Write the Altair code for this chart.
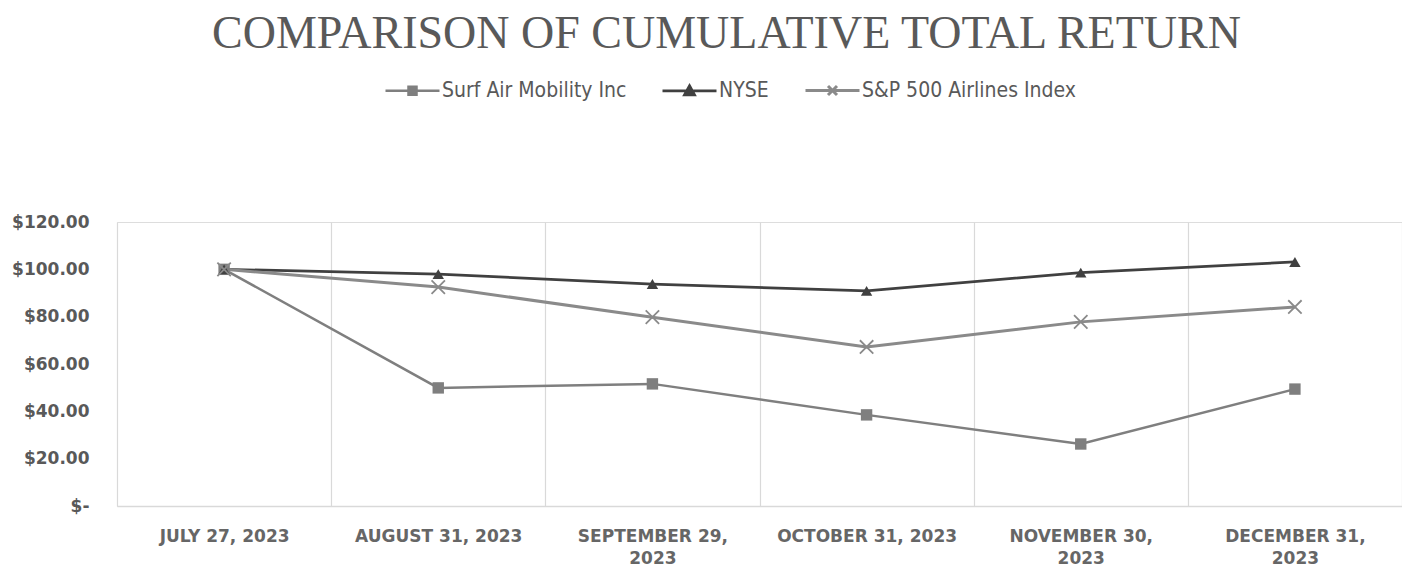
import altair as alt
import pandas as pd

dates = ["JULY 27, 2023", "AUGUST 31, 2023", "SEPTEMBER 29, 2023",
         "OCTOBER 31, 2023", "NOVEMBER 30, 2023", "DECEMBER 31, 2023"]
series_names = ["Surf Air Mobility Inc", "NYSE", "S&P 500 Airlines Index"]
surf_air = [100.0, 49.9, 51.6, 38.5, 26.2, 49.4]
nyse = [100.0, 98.0, 93.8, 90.9, 98.6, 103.1]
sp_airlines = [100.0, 92.5, 79.8, 67.2, 77.8, 84.1]
y_ticks = [0, 20, 40, 60, 80, 100, 120]

colors = ["#7f7f7f", "#404040", "#8a8a8a"]
widths = [2.5, 3, 2.5]
legend_paths = [
    "M-2.7,0L2.7,0M-0.4,-0.4L0.4,-0.4L0.4,0.4L-0.4,0.4Z",
    "M-2.7,0L2.7,0M0,-0.5L0.5,0.4L-0.5,0.4Z",
    "M-2.7,0L2.7,0M-0.45,-0.45L0.45,0.45M0.45,-0.45L-0.45,0.45",
]

rows = []
for name, vals in zip(series_names, [surf_air, nyse, sp_airlines]):
    for d, v in zip(dates, vals):
        rows.append({"date": d, "series": name, "value": v})
df = pd.DataFrame(rows)

x_enc = alt.X(
    "date:N", sort=dates, title=None,
    scale=alt.Scale(type="band", paddingInner=0, paddingOuter=0),
    axis=alt.Axis(
        labelAngle=0, labelFont="DejaVu Sans", labelFontWeight="bold",
        labelFontSize=17, labelColor="#666666", labelPadding=22,
        labelLineHeight=22, labelLimit=400,
        labelExpr="length(datum.label) > 16 ? [slice(datum.label, 0, length(datum.label) - 5), '2023'] : datum.label",
        ticks=False, domainColor="#d9d9d9", domainWidth=1.5,
        grid=True, gridColor="#d9d9d9", gridWidth=1.2, tickBand="extent",
    ),
)
y_enc = alt.Y(
    "value:Q", title=None,
    scale=alt.Scale(domain=[0, 120], nice=False),
    axis=alt.Axis(
        values=y_ticks, grid=False, domain=False, ticks=False,
        labelExpr="datum.value == 0 ? '$-' : '$' + format(datum.value, '.2f')",
        labelFont="DejaVu Sans", labelFontWeight="bold", labelFontSize=17,
        labelColor="#595959", labelPadding=28,
    ),
)

legend = alt.Legend(
    title=None, orient="none", direction="horizontal",
    legendX=284, legendY=-143, padding=0,
    symbolSize=400, symbolStrokeWidth=2.5, symbolOpacity=1,
    labelFont="Liberation Sans Narrow, DejaVu Sans Condensed, sans-serif",
    labelFontSize=21, labelColor="#595959",
    labelOffset=18, columnPadding=30, labelLimit=400,
)

stroke_scale = alt.Scale(domain=series_names, range=colors)

lines = alt.Chart(df).mark_line().encode(
    x=x_enc, y=y_enc,
    stroke=alt.Stroke("series:N", scale=stroke_scale, legend=legend),
    strokeWidth=alt.StrokeWidth("series:N", scale=alt.Scale(domain=series_names, range=widths), legend=None),
)

legend_layer = alt.Chart(df).mark_point(filled=True, opacity=0).encode(
    x=x_enc, y=y_enc,
    stroke=alt.Stroke("series:N", scale=stroke_scale, legend=legend),
    fill=alt.Fill("series:N", scale=alt.Scale(domain=series_names, range=colors), legend=legend),
    shape=alt.Shape("series:N", scale=alt.Scale(domain=series_names, range=legend_paths), legend=legend),
)

sq = alt.Chart(df).transform_filter(alt.datum.series == series_names[0]).mark_point(
    shape="square", filled=True, size=130, color=colors[0], opacity=1
).encode(x=x_enc, y=y_enc)
tri = alt.Chart(df).transform_filter(alt.datum.series == series_names[1]).mark_point(
    shape="triangle-up", filled=True, size=130, color=colors[1], opacity=1
).encode(x=x_enc, y=y_enc)
xs = alt.Chart(df).transform_filter(alt.datum.series == series_names[2]).mark_point(
    shape="M-1,-1L1,1M1,-1L-1,1", filled=False, size=180, color=colors[2],
    strokeWidth=1.8, opacity=1
).encode(x=x_enc, y=y_enc)

chart = alt.layer(lines, sq, tri, xs, legend_layer).properties(
    width=1285, height=284,
    padding={"left": 3, "top": 3, "right": 0, "bottom": 0},
    title=alt.TitleParams(
        "COMPARISON OF CUMULATIVE TOTAL RETURN",
        font="Liberation Serif", fontSize=46, fontWeight="normal",
        color="#595959", anchor="middle", offset=21, dx=-33,
    ),
).configure_view(stroke=None).configure(background="white")

chart.save("out.html", embed_options={"renderer": "svg", "actions": False})
